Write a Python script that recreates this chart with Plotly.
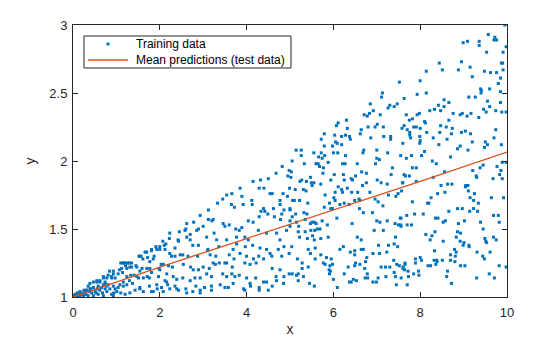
import plotly.graph_objects as go

# Training samples (x, y), grouped by band of x
train_x_low = [
    0.01, 0.05, 0.10, 0.16, 0.21, 0.25, 0.31, 0.38, 0.43, 0.51, 0.56, 0.62, 0.68, 0.78, 0.89, 0.94,
    1.01, 1.10, 1.20, 1.31, 1.43, 1.62, 1.81, 1.94, 2.08, 2.23, 2.35, 2.62, 2.76, 2.93, 3.19, 3.96,
    4.29, 4.50, 0.08, 0.16, 0.24, 0.28, 0.35, 0.47, 0.58, 0.70, 0.93, 0.02, 0.12, 0.18, 0.30, 0.41,
    0.53, 0.66, 0.74, 0.85, 0.97, 0.15, 0.25,
    0.39, 0.47, 0.55, 0.62, 0.74, 0.35, 0.47, 0.58, 0.70, 0.81, 0.93, 1.04, 1.16, 1.24, 1.37, 1.54,
    1.76, 1.93, 2.04, 2.18, 2.39, 2.43, 2.60, 2.83, 2.93, 3.03, 3.19, 3.39, 3.50, 3.58, 3.69, 3.93,
    4.09, 4.29, 4.59,
    0.84, 0.93, 0.97, 1.07, 1.14, 0.70, 0.78, 0.89, 1.24, 1.33, 1.41, 1.51, 1.62, 1.71, 1.97, 2.12,
    2.16, 2.31, 2.39, 2.53, 2.70, 2.81, 2.93, 3.08, 3.19, 3.45, 3.54, 3.66, 3.73, 3.83, 4.00, 4.08,
    4.21, 4.39, 4.46, 4.69, 4.85, 4.86,
]
train_y_low = [
    1.01, 1.02, 1.03, 1.04, 1.02, 1.03, 1.05, 1.04, 1.03, 1.04, 1.06, 1.05, 1.03, 1.04, 1.02, 1.03,
    1.04, 1.03, 1.02, 1.03, 1.05, 1.04, 1.04, 1.06, 1.04, 1.06, 1.08, 1.03, 1.04, 1.03, 1.05, 1.05,
    1.05, 1.05, 1.01, 1.01, 1.01, 1.02, 1.01, 1.01, 1.02, 1.01, 1.01, 1.01, 1.02, 1.03, 1.02, 1.06,
    1.03, 1.07, 1.06, 1.06, 1.06, 1.00, 1.05,
    1.10, 1.11, 1.12, 1.11, 1.10, 1.08, 1.07, 1.08, 1.09, 1.09, 1.08, 1.07, 1.08, 1.09, 1.10, 1.07,
    1.08, 1.09, 1.07, 1.09, 1.06, 1.05, 1.06, 1.08, 1.05, 1.07, 1.08, 1.09, 1.07, 1.07, 1.10, 1.06,
    1.08, 1.07, 1.08,
    1.19, 1.17, 1.14, 1.20, 1.18, 1.14, 1.14, 1.14, 1.15, 1.16, 1.16, 1.14, 1.14, 1.15, 1.15, 1.12,
    1.11, 1.15, 1.13, 1.14, 1.12, 1.14, 1.14, 1.17, 1.15, 1.17, 1.15, 1.17, 1.15, 1.16, 1.14, 1.10,
    1.14, 1.11, 1.11, 1.12, 1.10, 1.15,
]

train_x_near = [
    2.22, 2.43, 2.07, 2.10, 1.91, 2.00, 1.70, 1.81, 1.54, 1.61, 1.85, 1.77, 2.23, 2.27, 2.47, 1.16,
    1.22, 1.30, 1.12, 1.24, 1.35, 1.47, 1.70, 2.08, 2.00, 1.81, 1.47, 1.76, 2.16, 0.93, 1.04, 0.81,
    0.89, 0.70, 0.74, 0.62, 0.55, 1.16, 1.30, 0.39, 0.31, 0.78, 1.08, 1.54, 1.85,
]
train_y_near = [
    1.43, 1.41, 1.41, 1.38, 1.37, 1.35, 1.33, 1.34, 1.30, 1.28, 1.28, 1.26, 1.32, 1.30, 1.31, 1.25,
    1.25, 1.25, 1.21, 1.21, 1.22, 1.22, 1.21, 1.24, 1.20, 1.18, 1.15, 1.14, 1.17, 1.19, 1.17, 1.16,
    1.15, 1.15, 1.11, 1.12, 1.11, 1.11, 1.12, 1.06, 1.05, 1.08, 1.09, 1.06, 1.04,
]

train_x_mid = [
    1.10, 1.16, 1.27, 1.35, 1.21, 1.31, 1.45, 1.59, 1.54, 1.77, 1.98, 2.03, 2.20, 2.29, 2.54, 2.71,
    2.77, 2.89, 3.00, 3.14, 3.23, 3.37, 3.54, 3.67, 3.96, 4.08, 4.22, 4.59, 4.77, 4.98, 4.68,
    1.52, 1.57, 1.66, 1.72, 1.87, 2.00, 2.14, 1.93, 2.12, 1.81, 2.35, 2.53, 2.65, 2.87, 3.10, 3.16,
    3.29, 3.28, 3.50, 3.60, 3.71, 3.85, 4.00, 4.16, 4.28, 4.39, 4.58, 4.81,
    2.23, 2.45, 2.60, 2.42, 2.35, 2.62, 2.70, 2.85, 2.70, 2.76, 2.89, 3.08, 3.11, 3.31, 3.36, 3.54,
    3.77, 3.96, 4.04, 3.77, 4.27, 4.46, 4.69, 4.92, 5.00, 4.77, 4.86, 3.69, 3.97, 4.14, 4.31, 4.46,
    4.54, 4.73, 4.98,
    2.93, 3.12, 2.62, 2.58, 3.12, 3.23, 3.20, 2.78, 2.89, 3.00, 3.25, 3.46, 3.50, 3.60, 3.75, 3.83,
    3.89, 4.04, 4.15, 4.29, 4.49, 4.64, 4.78, 4.81,
    4.82, 4.98, 5.02, 4.95, 4.68, 4.32, 4.15, 4.50, 4.99, 3.85, 4.29, 4.40, 4.54, 4.59, 4.84, 4.12,
    4.77, 4.94, 3.66, 3.54, 3.45, 3.33, 3.89, 3.92, 3.65, 3.72, 4.13, 4.39, 4.42, 4.33, 4.62, 4.77,
    4.86, 5.00,
]
train_y_mid = [
    1.25, 1.25, 1.25, 1.25, 1.23, 1.22, 1.23, 1.21, 1.19, 1.21, 1.21, 1.24, 1.23, 1.22, 1.24, 1.22,
    1.20, 1.20, 1.22, 1.21, 1.25, 1.25, 1.25, 1.22, 1.25, 1.24, 1.25, 1.21, 1.20, 1.17, 1.15,
    1.30, 1.30, 1.33, 1.29, 1.30, 1.37, 1.39, 1.35, 1.35, 1.35, 1.30, 1.31, 1.30, 1.30, 1.34, 1.31,
    1.30, 1.24, 1.25, 1.31, 1.28, 1.32, 1.30, 1.28, 1.30, 1.28, 1.30, 1.30,
    1.47, 1.48, 1.50, 1.42, 1.36, 1.44, 1.42, 1.49, 1.46, 1.38, 1.38, 1.44, 1.35, 1.42, 1.37, 1.42,
    1.44, 1.44, 1.42, 1.39, 1.49, 1.47, 1.47, 1.49, 1.52, 1.42, 1.37, 1.35, 1.37, 1.38, 1.36, 1.35,
    1.32, 1.35, 1.32,
    1.60, 1.64, 1.54, 1.49, 1.57, 1.57, 1.56, 1.55, 1.50, 1.52, 1.47, 1.54, 1.52, 1.53, 1.50, 1.49,
    1.51, 1.56, 1.55, 1.59, 1.61, 1.59, 1.57, 1.61,
    1.96, 1.93, 1.88, 1.89, 1.91, 1.86, 1.85, 1.87, 1.80, 1.80, 1.80, 1.80, 1.76, 1.76, 1.76, 1.71,
    1.71, 1.74, 1.76, 1.75, 1.72, 1.69, 1.74, 1.68, 1.68, 1.66, 1.68, 1.65, 1.63, 1.63, 1.65, 1.68,
    1.64, 1.65,
]

train_x_right = [
    5.74, 5.05, 5.33, 5.60, 5.65, 5.68, 5.77, 5.88, 6.21, 6.27, 6.55, 6.97, 7.06, 7.36, 5.03, 5.76,
    6.02, 6.23, 6.25, 6.51, 6.65, 6.76, 7.33, 7.63, 5.27, 5.23, 5.38, 5.47, 5.49, 5.55, 5.51, 5.71,
    5.94, 6.41, 6.44, 6.67, 6.76, 7.01, 7.10, 7.24, 7.59, 5.12, 5.31, 5.37, 5.81, 6.04, 6.11, 6.19,
    6.21, 6.32, 6.42, 6.56, 6.59, 6.84, 6.96, 7.03, 7.14, 7.27, 7.44, 7.49, 5.06, 5.10, 5.22, 5.41,
    5.91, 6.01, 6.04, 6.15, 6.25, 6.36, 6.49, 6.61, 6.90, 6.60, 6.69, 5.79, 5.94, 5.98, 5.00, 5.05,
    5.13, 5.32, 5.39, 5.00, 5.15, 5.20, 5.35, 5.47, 5.51, 5.56, 5.60, 5.63, 5.69, 5.74, 5.86, 6.08,
    6.43, 7.00, 7.07, 7.24, 7.42, 7.50, 7.56, 7.54, 6.94, 7.15, 5.19, 5.35, 5.48, 5.52, 5.57, 5.22,
    5.40, 5.56, 5.71, 5.88, 7.43, 6.55, 6.64, 7.27, 7.40, 7.48, 7.04, 5.04, 5.42, 5.47, 5.58, 5.71,
    5.84, 5.95, 6.15, 6.23, 6.39, 6.49, 6.49, 6.64, 6.69, 6.77, 6.91, 7.23, 7.06, 7.39, 7.65, 5.17,
    5.28, 5.58, 5.77, 5.81, 5.92, 5.98, 6.51, 6.61, 6.74, 7.46, 7.52, 7.61, 5.42, 5.28, 5.90, 5.93,
    6.34, 6.49, 6.72, 7.10, 7.20, 7.30, 5.05, 5.15, 5.19, 5.31, 5.91, 6.25, 6.78, 6.73, 7.03, 7.21,
    7.40, 7.43, 7.56, 5.19, 6.00, 6.37, 6.46, 6.53, 6.79, 6.91, 6.99, 5.45, 5.56, 6.09, 6.41, 7.45,
]
train_y_right = [
    2.02, 2.00, 1.98, 1.98, 1.98, 1.96, 1.95, 1.99, 1.98, 1.98, 1.98, 1.98, 2.01, 1.95, 1.92, 1.91,
    1.90, 1.90, 1.86, 1.89, 1.92, 1.91, 1.90, 1.90, 1.86, 1.85, 1.85, 1.88, 1.84, 1.84, 1.82, 1.83,
    1.86, 1.87, 1.86, 1.82, 1.84, 1.86, 1.84, 1.83, 1.84, 1.79, 1.79, 1.78, 1.75, 1.77, 1.81, 1.79,
    1.77, 1.80, 1.77, 1.77, 1.72, 1.77, 1.72, 1.70, 1.67, 1.75, 1.74, 1.76, 1.71, 1.71, 1.71, 1.69,
    1.69, 1.73, 1.71, 1.68, 1.69, 1.68, 1.71, 1.71, 1.62, 1.65, 1.62, 1.66, 1.65, 1.65, 1.64, 1.59,
    1.61, 1.62, 1.61, 1.56, 1.55, 1.52, 1.57, 1.54, 1.55, 1.55, 1.54, 1.50, 1.50, 1.56, 1.53, 1.58,
    1.54, 1.56, 1.55, 1.56, 1.54, 1.53, 1.52, 1.58, 1.49, 1.49, 1.48, 1.48, 1.49, 1.45, 1.49, 1.44,
    1.43, 1.42, 1.43, 1.44, 1.44, 1.44, 1.42, 1.38, 1.39, 1.37, 1.38, 1.37, 1.35, 1.32, 1.36, 1.31,
    1.29, 1.28, 1.35, 1.37, 1.33, 1.34, 1.31, 1.35, 1.35, 1.29, 1.32, 1.33, 1.32, 1.27, 1.25, 1.28,
    1.25, 1.28, 1.25, 1.24, 1.23, 1.24, 1.25, 1.24, 1.26, 1.24, 1.23, 1.22, 1.22, 1.21, 1.20, 1.19,
    1.22, 1.23, 1.21, 1.22, 1.22, 1.22, 1.17, 1.16, 1.17, 1.15, 1.17, 1.17, 1.17, 1.14, 1.14, 1.15,
    1.18, 1.15, 1.14, 1.12, 1.13, 1.11, 1.13, 1.12, 1.14, 1.11, 1.11, 1.10, 1.08, 1.07, 1.11, 1.09,
]

train_x_far = [
    8.28, 8.37, 9.89, 9.98, 7.82, 7.91, 7.66, 7.75, 7.91, 8.30, 8.56, 8.48, 8.63, 8.73, 9.05, 9.10,
    9.21, 9.29, 9.30, 9.38, 9.45, 9.77, 9.83, 9.86, 9.68, 9.89, 7.60, 7.57, 7.82, 8.40, 8.57, 8.25,
    8.17, 8.20, 8.66, 8.86, 8.97, 9.04, 9.11, 9.15, 9.25, 9.23, 9.34, 9.14, 9.23, 9.32, 9.64, 9.92,
    8.07, 7.87, 7.69, 7.56, 7.55, 7.70, 7.80, 8.35, 8.41, 8.53, 8.58, 8.88, 9.02, 9.39, 9.69, 9.80,
    9.82, 8.13, 8.34, 8.27, 8.23, 8.53, 8.86, 8.93, 8.83, 8.92, 9.01, 8.99, 9.12, 9.13, 9.45, 9.49,
    9.51, 9.53, 9.69, 9.75, 9.61, 9.31, 8.33, 8.79, 8.83, 8.81, 8.70, 7.89, 8.00, 8.03, 7.89, 8.32,
    8.38, 8.39, 8.51, 8.36, 8.70, 8.80, 9.44, 9.48, 8.93, 9.03, 8.18, 8.24, 7.65, 7.60, 7.64, 9.82,
    9.98, 7.72, 7.85, 7.96, 7.97, 7.73, 8.61, 8.63, 9.30, 9.59, 9.71, 7.70, 8.72,
]
train_y_far = [
    2.00, 1.98, 1.99, 1.99, 1.95, 1.95, 1.89, 1.89, 1.85, 1.88, 1.92, 1.82, 1.83, 1.83, 1.82, 1.82,
    1.93, 1.89, 1.88, 1.95, 1.97, 1.96, 1.90, 1.93, 1.87, 1.87, 1.84, 1.78, 1.70, 1.76, 1.77, 1.73,
    1.69, 1.69, 1.63, 1.65, 1.65, 1.81, 1.78, 1.73, 1.76, 1.71, 1.69, 1.63, 1.65, 1.63, 1.73, 1.73,
    1.61, 1.61, 1.60, 1.58, 1.53, 1.53, 1.53, 1.58, 1.58, 1.55, 1.56, 1.54, 1.56, 1.55, 1.60, 1.60,
    1.55, 1.46, 1.48, 1.45, 1.42, 1.41, 1.48, 1.47, 1.44, 1.41, 1.40, 1.38, 1.38, 1.37, 1.50, 1.43,
    1.41, 1.40, 1.44, 1.42, 1.33, 1.33, 1.34, 1.35, 1.33, 1.30, 1.31, 1.28, 1.29, 1.27, 1.25, 1.27,
    1.27, 1.26, 1.27, 1.24, 1.27, 1.26, 1.30, 1.28, 1.23, 1.23, 1.23, 1.23, 1.24, 1.21, 1.20, 1.23,
    1.22, 1.19, 1.17, 1.19, 1.16, 1.15, 1.15, 1.19, 1.14, 1.17, 1.14, 1.09, 1.10,
]

train_x_top = [
    9.95, 9.57, 9.72, 9.70, 9.76, 9.36, 8.99, 9.09, 9.36, 9.98, 9.53, 9.91, 8.95, 8.44, 9.87, 9.90,
    9.15, 8.88, 8.51, 8.14, 9.48, 9.62, 9.76, 9.91, 9.20, 9.85, 8.00, 7.52, 9.80, 9.39, 9.41, 9.60,
    9.85, 8.14, 7.93, 9.40, 7.13, 7.11, 9.12, 9.27, 7.63, 8.55, 9.55, 6.85, 8.66, 9.85, 7.30, 7.26,
    7.40, 7.47, 8.42, 8.55, 9.60, 9.46, 8.33, 8.22, 8.47, 6.92, 9.52, 9.74, 9.88, 9.98, 7.93, 7.98,
    6.83, 6.71, 6.78, 7.08, 7.68, 8.76, 8.92, 8.97, 9.08, 9.17, 9.35, 6.30, 7.75, 7.82, 8.66, 6.11,
    6.07, 8.10, 8.12, 7.01, 7.63, 8.47, 8.60, 8.74, 6.80, 6.96, 7.15, 6.32, 6.64, 7.58, 7.70, 7.85,
    7.91, 8.00, 8.15, 5.79, 6.62, 7.76, 7.76, 7.78, 8.45, 8.72, 8.95, 9.04, 9.16, 9.74, 6.03, 6.19,
    6.28, 6.37, 6.39, 6.86, 7.16, 7.32, 7.32, 7.99, 5.72, 8.30, 8.62, 9.70, 8.00, 7.99, 7.60, 9.20,
    9.50, 9.55, 6.05, 6.09, 6.19, 5.98, 5.79, 8.43, 8.92, 8.86, 9.48, 9.87, 5.14, 5.26, 6.70, 6.68,
    7.00, 8.10, 9.10, 5.55, 5.72, 6.00, 6.10, 7.25, 5.26, 5.66, 5.80, 6.28, 7.00, 7.55, 7.68, 7.80,
    8.03, 8.70,
]
train_y_top = [
    3.00, 2.93, 2.91, 2.89, 2.89, 2.88, 2.87, 2.88, 2.85, 2.84, 2.80, 2.80, 2.73, 2.72, 2.72, 2.72,
    2.69, 2.67, 2.67, 2.66, 2.66, 2.65, 2.65, 2.67, 2.62, 2.61, 2.59, 2.58, 2.57, 2.53, 2.52, 2.53,
    2.51, 2.50, 2.49, 2.50, 2.50, 2.47, 2.47, 2.47, 2.46, 2.45, 2.44, 2.42, 2.43, 2.43, 2.41, 2.39,
    2.40, 2.42, 2.41, 2.40, 2.40, 2.38, 2.38, 2.37, 2.37, 2.37, 2.36, 2.37, 2.36, 2.36, 2.34, 2.35,
    2.35, 2.34, 2.33, 2.34, 2.34, 2.35, 2.34, 2.35, 2.33, 2.35, 2.32, 2.30, 2.30, 2.31, 2.30, 2.28,
    2.26, 2.29, 2.28, 2.27, 2.26, 2.26, 2.25, 2.24, 2.25, 2.25, 2.25, 2.24, 2.23, 2.24, 2.23, 2.25,
    2.25, 2.24, 2.21, 2.20, 2.20, 2.21, 2.19, 2.17, 2.21, 2.20, 2.21, 2.22, 2.20, 2.23, 2.19, 2.18,
    2.19, 2.18, 2.16, 2.17, 2.18, 2.18, 2.16, 2.18, 2.16, 2.17, 2.16, 2.17, 2.15, 2.13, 2.13, 2.14,
    2.14, 2.12, 2.14, 2.13, 2.12, 2.11, 2.11, 2.12, 2.11, 2.09, 2.10, 2.12, 2.08, 2.08, 2.08, 2.06,
    2.08, 2.07, 2.08, 2.06, 2.06, 2.06, 2.06, 2.06, 2.04, 2.03, 2.04, 2.04, 2.02, 2.04, 2.02, 2.04,
    2.04, 2.03,
]

train_x = train_x_low + train_x_near + train_x_mid + train_x_right + train_x_far + train_x_top
train_y = train_y_low + train_y_near + train_y_mid + train_y_right + train_y_far + train_y_top

# Mean predictions at the test inputs
test_x = [0, 2, 4, 6, 8, 10]
mean_pred = [1.00, 1.22, 1.43, 1.64, 1.85, 2.066]

x_ticks = [0, 2, 4, 6, 8, 10]
y_ticks = [1, 1.5, 2, 2.5, 3]
y_tick_text = ["1", "1.5", "2", "2.5", "3"]

train_name = "Training data"
pred_name = "Mean predictions (test data)"

BLUE = "#0072BD"
ORANGE = "#D95319"
AX = "#262626"
FONT = "Liberation Sans, Arial, Helvetica, sans-serif"

fig = go.Figure()
fig.add_trace(go.Scatter(
    x=train_x, y=train_y, mode="markers", name=train_name, showlegend=False,
    marker=dict(symbol="square", size=3, color=BLUE, line=dict(width=0)),
))
fig.add_trace(go.Scatter(
    x=test_x, y=mean_pred, mode="lines", name=pred_name, showlegend=False,
    line=dict(color=ORANGE, width=1.3),
))

axis_common = dict(
    showgrid=False, zeroline=False, showline=True, linecolor=AX, linewidth=1,
    mirror="ticks", ticks="inside", ticklen=5, tickwidth=1, tickcolor=AX,
    tickfont=dict(family=FONT, size=13, color=AX),
    title_font=dict(family=FONT, size=14, color=AX),
    automargin=False,
)
fig.update_xaxes(range=[0, 10], tickvals=x_ticks, title_text="x", title_standoff=6,
                 ticklabelstandoff=3, **axis_common)
fig.update_yaxes(range=[1, 3], tickvals=y_ticks, ticktext=y_tick_text, title_text="y",
                 title_standoff=10, ticklabelstandoff=2, **axis_common)

# Compact boxed legend in the upper-left corner of the axes
leg_x0, leg_x1, leg_y0, leg_y1 = 0.0253, 0.5023, 0.8419, 0.9596
row1_y, row2_y = 0.930, 0.8713
sample_x0, sample_x1, marker_x, text_x = 0.0346, 0.1267, 0.0806, 0.1406

fig.add_shape(type="rect", xref="paper", yref="paper",
              x0=leg_x0, x1=leg_x1, y0=leg_y0, y1=leg_y1,
              line=dict(color=AX, width=1), fillcolor="white", layer="above")
fig.add_shape(type="rect", xref="paper", yref="paper",
              xsizemode="pixel", ysizemode="pixel", xanchor=marker_x, yanchor=row1_y,
              x0=-1.5, x1=1.5, y0=-1.5, y1=1.5,
              line=dict(width=0), fillcolor=BLUE, layer="above")
fig.add_shape(type="line", xref="paper", yref="paper",
              x0=sample_x0, x1=sample_x1, y0=row2_y, y1=row2_y,
              line=dict(color=ORANGE, width=1.3), layer="above")
for label, yy in ((train_name, row1_y), (pred_name, row2_y)):
    fig.add_annotation(text=label, xref="paper", yref="paper", x=text_x, y=yy,
                       xanchor="left", yanchor="middle", showarrow=False,
                       font=dict(family=FONT, size=12, color="#000000"))

fig.update_layout(
    width=560, height=337,
    margin=dict(l=73, r=53, t=25, b=40),
    paper_bgcolor="white", plot_bgcolor="white",
    showlegend=False,
)

fig.write_html("out.html")
